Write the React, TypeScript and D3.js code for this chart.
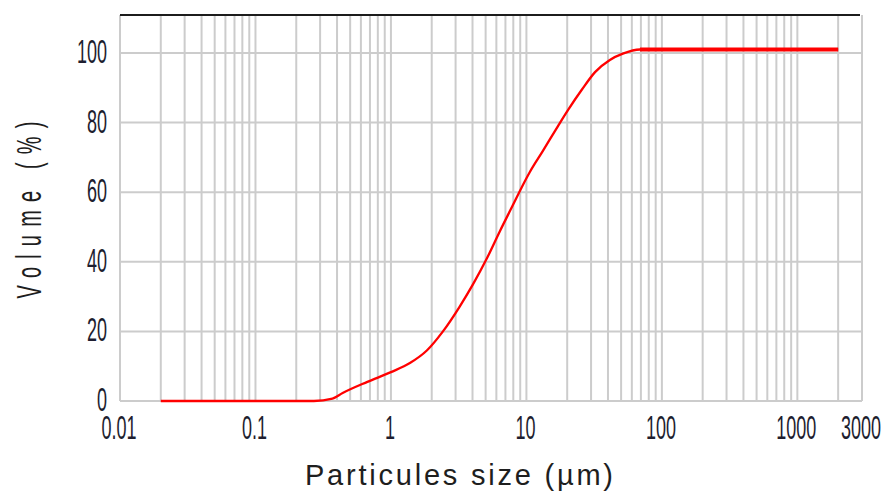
import React from "react";
import * as d3 from "d3";

const sizes = [0.02, 0.1, 0.27, 0.37, 0.44, 0.67, 1.0, 1.38, 1.84, 2.42, 3.2, 4.03, 5.11, 6.37, 7.95, 9.26, 10.6, 13.2, 17.1, 20.2, 25.7, 32.1, 41.3, 51.5, 68.9, 2000];
const volumes = [0, 0, 0, 0.7, 2.3, 5.5, 8.3, 10.9, 14.5, 20, 27, 33.5, 41, 48.8, 56.3, 61.5, 65.8, 71.8, 79, 83.5, 89.5, 94.5, 98, 99.8, 101, 101];
const xTickLabels = [0.01, 0.1, 1, 10, 100, 1000, 3000];
const yTicks = [0, 20, 40, 60, 80, 100];
const decades = [0.01, 0.1, 1, 10, 100, 1000];

const W = 884;
const H = 491;

export default function App() {
  const x = d3.scaleLog().domain([0.01, 3000]).range([120, 862]);
  const y = d3.scaleLinear().domain([0, 100]).range([401, 53]);
  const yMax = 110.9;

  const gridX: number[] = [];
  decades.forEach((d) => {
    for (let m = 1; m <= 9; m++) {
      const v = d * m;
      if (v <= 3000 + 1e-9) gridX.push(v);
    }
  });
  gridX.push(3000);

  const pts = sizes.map((s, i) => [s, volumes[i]] as [number, number]);
  const line = d3
    .line<[number, number]>()
    .x((d) => x(d[0]))
    .y((d) => y(d[1]))
    .curve(d3.curveMonotoneX);
  const plateau = pts.filter((p) => p[1] >= 100.5);

  const fmt = (v: number) => String(v);

  return (
    <svg
      width={W}
      height={H}
      style={{ position: "absolute", left: 0, top: 0, background: "#fff" }}
      fontFamily="'Liberation Sans', Arial, sans-serif"
    >
      <rect x={0} y={0} width={W} height={H} fill="#fff" />
      {/* vertical grid */}
      {gridX.map((v, i) => (
        <line
          key={"gx" + i}
          x1={x(v)}
          x2={x(v)}
          y1={y(yMax)}
          y2={y(0)}
          stroke="#cccccc"
          strokeWidth={2}
        />
      ))}
      {/* horizontal grid */}
      {yTicks.map((t) => (
        <line
          key={"gy" + t}
          x1={x(0.01)}
          x2={x(3000)}
          y1={y(t)}
          y2={y(t)}
          stroke="#cccccc"
          strokeWidth={2}
        />
      ))}
      {/* top border */}
      <line x1={x(0.01)} x2={860} y1={y(yMax)} y2={y(yMax)} stroke="#1c1c1c" strokeWidth={2} />

      {/* curve */}
      <path d={line(pts) || ""} fill="none" stroke="#ff0000" strokeWidth={2.3} strokeLinejoin="round" />
      <path d={line(plateau) || ""} fill="none" stroke="#ff0000" strokeWidth={4} />

      {/* y tick labels */}
      {yTicks.map((t) => (
        <text
          key={"yt" + t}
          transform={`translate(107,${y(t) + 10}) scale(1,1.85)`}
          textAnchor="end"
          fontSize={18}
          fill="#1e1e30"
        >
          {t}
        </text>
      ))}
      {/* x tick labels */}
      {xTickLabels.map((t) => (
        <text
          key={"xt" + t}
          transform={`translate(${x(t) - 1},${439}) scale(1,1.85)`}
          textAnchor="middle"
          fontSize={18}
          fill="#1e1e30"
        >
          {fmt(t)}
        </text>
      ))}

      {/* axis titles */}
      <text
        transform="translate(41,210) rotate(-90) scale(1,1.75)"
        textAnchor="middle"
        fontSize={20}
        fill="#1e1e1e"
        textLength={177}
        lengthAdjust="spacing"
      >
        Volume (%)
      </text>
      <text
        x={459}
        y={485}
        textAnchor="middle"
        fontSize={29}
        fill="#1e1e1e"
        textLength={308}
        lengthAdjust="spacing"
      >
        Particules size (µm)
      </text>
    </svg>
  );
}
